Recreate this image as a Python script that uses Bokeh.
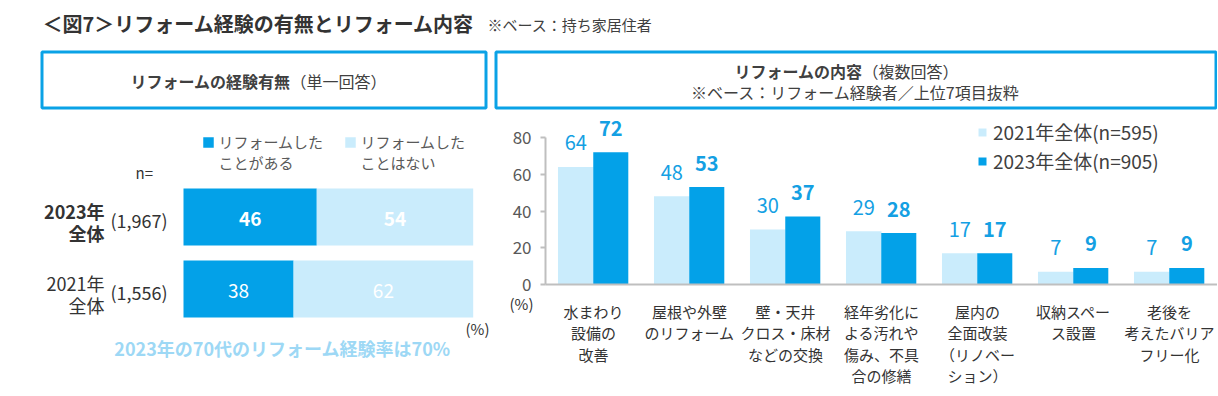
from bokeh.plotting import figure
from bokeh.layouts import column, row
from bokeh.models import (ColumnDataSource, Range1d, LinearAxis, FixedTicker,
                          Legend, LegendItem)
from bokeh.transform import dodge
from bokeh.core.properties import value
from bokeh.embed import file_html
from bokeh.resources import INLINE

FONT = "Noto Sans CJK JP"

# ---------------- data ----------------
title_main = "＜図7＞リフォーム経験の有無とリフォーム内容"
title_note = "※ベース：持ち家居住者"
left_head_bold = "リフォームの経験有無"
left_head_norm = "（単一回答）"
right_head_bold = "リフォームの内容"
right_head_norm = "（複数回答）"
right_head_note = "※ベース：リフォーム経験者／上位7項目抜粋"

exp_rows = ["2023年\n全体", "2021年\n全体"]
exp_n = ["(1,967)", "(1,556)"]
exp_yes = [46, 38]
exp_no = [54, 62]
exp_legend = ["リフォームした\nことがある", "リフォームした\nことはない"]
exp_note = "2023年の70代のリフォーム経験率は70%"

content_cats = [
    "水まわり\n設備の\n改善",
    "屋根や外壁\nのリフォーム",
    "壁・天井\nクロス・床材\nなどの交換",
    "経年劣化に\nよる汚れや\n傷み、不具\n合の修繕",
    "屋内の\n全面改装\n（リノベー\nション）",
    "収納スペー\nス設置",
    "老後を\n考えたバリア\nフリー化",
]
content_2021 = [64, 48, 30, 29, 17, 7, 7]
content_2023 = [72, 53, 37, 28, 17, 9, 9]
content_series = ["2021年全体(n=595)", "2023年全体(n=905)"]
y_ticks = [0, 20, 40, 60, 80]

# ---------------- styles ----------------
DARK = "#03A1E8"
LIGHT = "#CAECFC"
BOX = "#0AA2E6"
VAL = "#14A0E3"
NOTE_BLUE = "#9DD8F5"
TXT = "#333333"
TXT2 = "#404040"
GRAY_T = "#595959"
AXIS = "#BFBFBF"

# layout in page pixels (page has no margin)
TOP_H, BOT_H = 111, 284
LEFT_W, RIGHT_W = 490, 727
TOTAL_W = LEFT_W + RIGHT_W
YB = TOP_H                 # top of bottom row
YE = YB + BOT_H            # bottom of bottom row
XM = LEFT_W                # split between figures
XE = TOTAL_W


def blank(width, height, xr, yr):
    p = figure(width=width, height=height, x_range=xr, y_range=yr,
               toolbar_location=None, output_backend="svg", title=None,
               x_axis_location=None, y_axis_location=None,
               outline_line_color=None, min_border=0)
    p.grid.visible = False
    return p


def txt(p, x, y, s, size, color=TXT2, style="normal", align="left",
        base="middle", lh=1.0, **kw):
    p.text(x=[x], y=[y], text=[s], text_font=value(FONT),
           text_font_size=size, text_color=color, text_font_style=style,
           text_align=align, text_baseline=base, text_line_height=lh, **kw)


# ---------------- top: title + header boxes ----------------
top = blank(TOTAL_W, TOP_H, Range1d(0, XE), Range1d(YB, 0))
txt(top, 42, 23, title_main, "20px", TXT, "bold")
txt(top, 487, 24, title_note, "15px", TXT2)
top.quad(left=[41.5, 495.5], right=[485.5, XE - 1.5], top=[51.5, 51.5],
         bottom=[107.5, 107.5], fill_color=None, line_color=BOX, line_width=3)
txt(top, 290, 80, left_head_bold, "16px", TXT2, "bold", "right")
txt(top, 290, 80, left_head_norm, "16px", TXT2, "normal", "left")
txt(top, 862, 70, right_head_bold, "16px", TXT2, "bold", "right")
txt(top, 862, 70, right_head_norm, "16px", TXT2, "normal", "left")
txt(top, 855, 91, right_head_note, "16px", TXT2, "normal", "center")

# ---------------- left: experience stacked bars ----------------
BAR_X0, BAR_X1 = 183, 472.7
sc = (BAR_X1 - BAR_X0) / 100.0
ROW0, STEP = 216.5, 72.0
left = blank(LEFT_W, BOT_H,
             Range1d((0 - BAR_X0) / sc, (XM - BAR_X0) / sc),
             Range1d((YE - ROW0) / STEP, (YB - ROW0) / STEP))
left.extra_x_ranges = {"px": Range1d(0, XM)}
left.extra_y_ranges = {"px": Range1d(YE, YB)}

idx = list(range(len(exp_rows)))
lsrc = ColumnDataSource(dict(
    y=idx, yes=exp_yes, no=exp_no,
    total=[a + b for a, b in zip(exp_yes, exp_no)],
    mid_yes=[a / 2 for a in exp_yes],
    mid_no=[a + b / 2 for a, b in zip(exp_yes, exp_no)],
    t_yes=[str(v) for v in exp_yes], t_no=[str(v) for v in exp_no],
    lab=exp_rows, n=exp_n))
bh = 57 / STEP
left.hbar(y="y", left=0, right="yes", height=bh, source=lsrc,
          fill_color=DARK, line_color=None)
left.hbar(y="y", left="yes", right="total", height=bh, source=lsrc,
          fill_color=LIGHT, line_color=None)

for i in idx:
    style = "bold" if i == 0 else "normal"
    one = ColumnDataSource({k: [v[i]] for k, v in lsrc.data.items()})
    for xcol, tcol in (("mid_yes", "t_yes"), ("mid_no", "t_no")):
        left.text(x=xcol, y="y", text=tcol, source=one, text_font=value(FONT),
                  text_font_size="19px", text_color="white",
                  text_font_style=style, text_align="center",
                  text_baseline="middle", y_offset=2)
    left.text(x=104, y="y", text="lab", source=one, x_range_name="px",
              text_font=value(FONT), text_font_size="18px", text_color=TXT,
              text_font_style=style, text_align="right",
              text_baseline="middle", text_line_height=0.88, y_offset=5)
    left.text(x=110, y="y", text="n", source=one, x_range_name="px",
              text_font=value(FONT), text_font_size="18px", text_color=TXT,
              text_align="left", text_baseline="middle", y_offset=3)

txt(left, 135, 172, "n=", "15px", TXT, x_range_name="px", y_range_name="px")
left.rect(x=[208, 350], y=[142, 142], width=10.5, height=10.5,
          fill_color=[DARK, LIGHT], line_color=None,
          x_range_name="px", y_range_name="px")
txt(left, 218, 151, exp_legend[0], "15px", GRAY_T, lh=1.0,
    x_range_name="px", y_range_name="px")
txt(left, 360, 151, exp_legend[1], "15px", GRAY_T, lh=1.0,
    x_range_name="px", y_range_name="px")
txt(left, 489, 328, "(%)", "15px", TXT, align="right",
    x_range_name="px", y_range_name="px")
txt(left, 282, 347, exp_note, "18px", NOTE_BLUE, "bold", "center",
    x_range_name="px", y_range_name="px")

# ---------------- right: content grouped bars ----------------
AX_X, AX_Y = 545, 284            # y-axis x position / x-axis y position
CAT_W = 96.0                     # pixels per category
Y80 = 137                        # pixel row of the 80 tick
ysc = (AX_Y - Y80) / 80.0
x_first = -0.5                   # left edge of first category (data units)
right = blank(RIGHT_W, BOT_H,
              Range1d(x_first - (AX_X - XM) / CAT_W,
                      x_first + (XE - AX_X) / CAT_W),
              Range1d(-(YE - AX_Y) / ysc, (AX_Y - YB) / ysc))
right.extra_x_ranges = {"px": Range1d(XM, XE)}
right.extra_y_ranges = {"px": Range1d(YE, YB)}

cidx = list(range(len(content_cats)))
rsrc = ColumnDataSource(dict(
    i=cidx, v21=content_2021, v23=content_2023,
    t21=[str(v) for v in content_2021], t23=[str(v) for v in content_2023]))
r1 = right.vbar(x=dodge("i", -0.185), top="v21", width=0.37, source=rsrc,
                fill_color=LIGHT, line_color=None)
r2 = right.vbar(x=dodge("i", 0.18), top="v23", width=0.365, source=rsrc,
                fill_color=DARK, line_color=None)
right.text(x=dodge("i", -0.185), y="v21", text="t21", source=rsrc,
           text_font=value(FONT), text_font_size="20px", text_color=VAL,
           text_align="center", text_baseline="alphabetic", y_offset=-24)
right.text(x=dodge("i", 0.18), y="v23", text="t23", source=rsrc,
           text_font=value(FONT), text_font_size="20px",
           text_font_style="bold", text_color=VAL, text_align="center",
           text_baseline="alphabetic", y_offset=-24)

yax = LinearAxis(ticker=FixedTicker(ticks=y_ticks), bounds=(0, 80),
                 fixed_location=x_first)
yax.axis_line_color = AXIS
yax.axis_line_width = 2
yax.major_tick_line_color = AXIS
yax.major_tick_line_width = 2
yax.major_tick_in = 0
yax.major_tick_out = 5
yax.minor_tick_line_color = None
yax.major_label_text_font = FONT
yax.major_label_text_font_size = "17px"
yax.major_label_text_color = GRAY_T
yax.major_label_standoff = 9
right.add_layout(yax, "left")

xax = LinearAxis(ticker=FixedTicker(ticks=cidx),
                 bounds=(x_first, x_first + len(content_cats)),
                 fixed_location=0,
                 major_label_overrides={i: c for i, c in zip(cidx, content_cats)})
xax.axis_line_color = AXIS
xax.axis_line_width = 2
xax.major_tick_line_color = None
xax.minor_tick_line_color = None
xax.major_label_text_font = FONT
xax.major_label_text_font_size = "15px"
xax.major_label_text_color = TXT
xax.major_label_text_line_height = 1.03
xax.major_label_standoff = 10
right.add_layout(xax, "below")

legend = Legend(items=[LegendItem(label=content_series[0], renderers=[r1]),
                       LegendItem(label=content_series[1], renderers=[r2])],
                location=(977 - XM, YE - 174), orientation="vertical",
                glyph_width=10, glyph_height=10, label_standoff=6, spacing=2,
                padding=0, margin=0, border_line_color=None,
                background_fill_alpha=0, label_text_font=FONT,
                label_text_font_size="19px", label_text_color=TXT2,
                label_height=27)
right.add_layout(legend)

txt(right, 521, 303, "(%)", "15px", TXT, align="center",
    x_range_name="px", y_range_name="px")

page = column(top, row(left, right))
open("out.html", "w").write(file_html(page, INLINE))
